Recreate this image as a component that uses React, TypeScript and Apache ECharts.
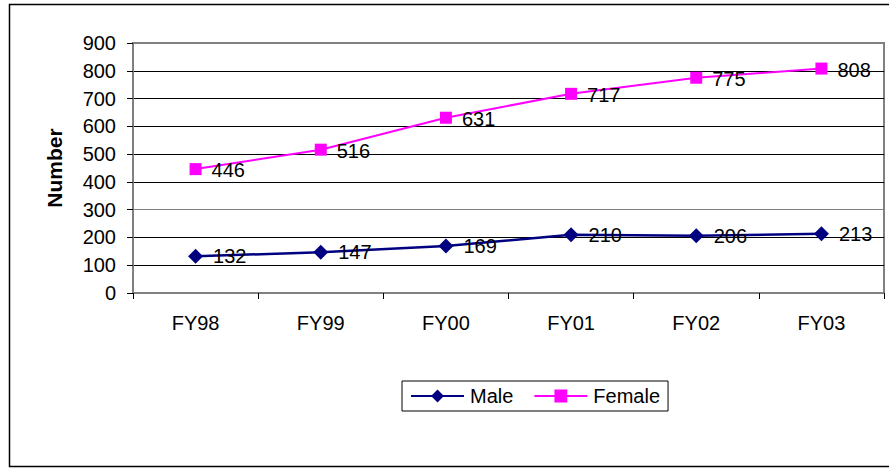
import React, { useEffect, useRef } from "react";
import * as echarts from "echarts";

const categories = ["FY98", "FY99", "FY00", "FY01", "FY02", "FY03"];
const maleValues = [132, 147, 169, 210, 206, 213];
const femaleValues = [446, 516, 631, 717, 775, 808];
const yTicks = { min: 0, max: 900, interval: 100 };

const FONT = "Liberation Sans, Arial, sans-serif";

export default function App() {
  const ref = useRef<HTMLDivElement>(null);
  useEffect(() => {
    if (!ref.current) return;
    const chart = echarts.init(ref.current, null, { renderer: "svg" });
    const labelStyle = {
      show: true,
      position: "right" as const,
      distance: 10,
      color: "#000",
      fontSize: 20,
      fontFamily: FONT,
      offset: [0, 1],
    };
    chart.setOption({
      animation: false,
      backgroundColor: "#fff",
      graphic: [
        {
          type: "rect",
          shape: { x: 9.5, y: 4.5, width: 900, height: 462 },
          style: { fill: "none", stroke: "#000", lineWidth: 1.5 },
          silent: true,
          z: -1,
        },
      ],
      grid: {
        left: 133,
        top: 43,
        right: 5,
        bottom: 175,
        show: true,
        borderColor: "#808080",
        borderWidth: 2,
        backgroundColor: "transparent",
      },
      legend: {
        data: ["Male", "Female"],
        left: 402,
        top: 381,
        padding: [5, 8, 5, 8],
        borderColor: "#000",
        borderWidth: 1,
        itemWidth: 53,
        itemHeight: 16,
        itemGap: 20,
        textStyle: { fontSize: 20, fontFamily: FONT, color: "#000", padding: [0, 0, 0, 1] },
      },
      xAxis: {
        type: "category",
        data: categories,
        boundaryGap: true,
        axisLine: { show: true, lineStyle: { color: "#808080", width: 2 } },
        axisTick: { show: true, length: 6, lineStyle: { color: "#000" } },
        axisLabel: { fontSize: 20, fontFamily: FONT, color: "#000", margin: 20 },
        splitLine: { show: false },
      },
      yAxis: {
        type: "value",
        min: yTicks.min,
        max: yTicks.max,
        interval: yTicks.interval,
        name: "Number",
        nameLocation: "middle",
        nameGap: 68,
        nameTextStyle: { fontSize: 21, fontWeight: "bold", fontFamily: FONT, color: "#000" },
        axisLine: { show: true, lineStyle: { color: "#808080", width: 2 } },
        axisTick: { show: true, length: 6, lineStyle: { color: "#000" } },
        axisLabel: { fontSize: 20, fontFamily: FONT, color: "#000", margin: 17 },
        splitLine: {
          show: true,
          lineStyle: {
            color: ["#808080", "#000", "#000", "#808080", "#000", "#000", "#000", "#000", "#000", "#808080"],
            width: 1,
          },
        },
      },
      series: [
        {
          name: "Male",
          type: "line",
          data: maleValues,
          symbol: "diamond",
          symbolSize: 15,
          color: "#000080",
          lineStyle: { color: "#000080", width: 2.5 },
          itemStyle: { color: "#000080" },
          label: { ...labelStyle, offset: [0, 0] },
        },
        {
          name: "Female",
          type: "line",
          data: femaleValues,
          symbol: "rect",
          symbolSize: 12,
          color: "#FF00FF",
          lineStyle: { color: "#FF00FF", width: 2 },
          itemStyle: { color: "#FF00FF" },
          label: labelStyle,
        },
      ],
    });
    return () => chart.dispose();
  }, []);
  return (
    <div
      ref={ref}
      style={{ position: "fixed", left: 0, top: 0, width: 889, height: 468 }}
    />
  );
}
